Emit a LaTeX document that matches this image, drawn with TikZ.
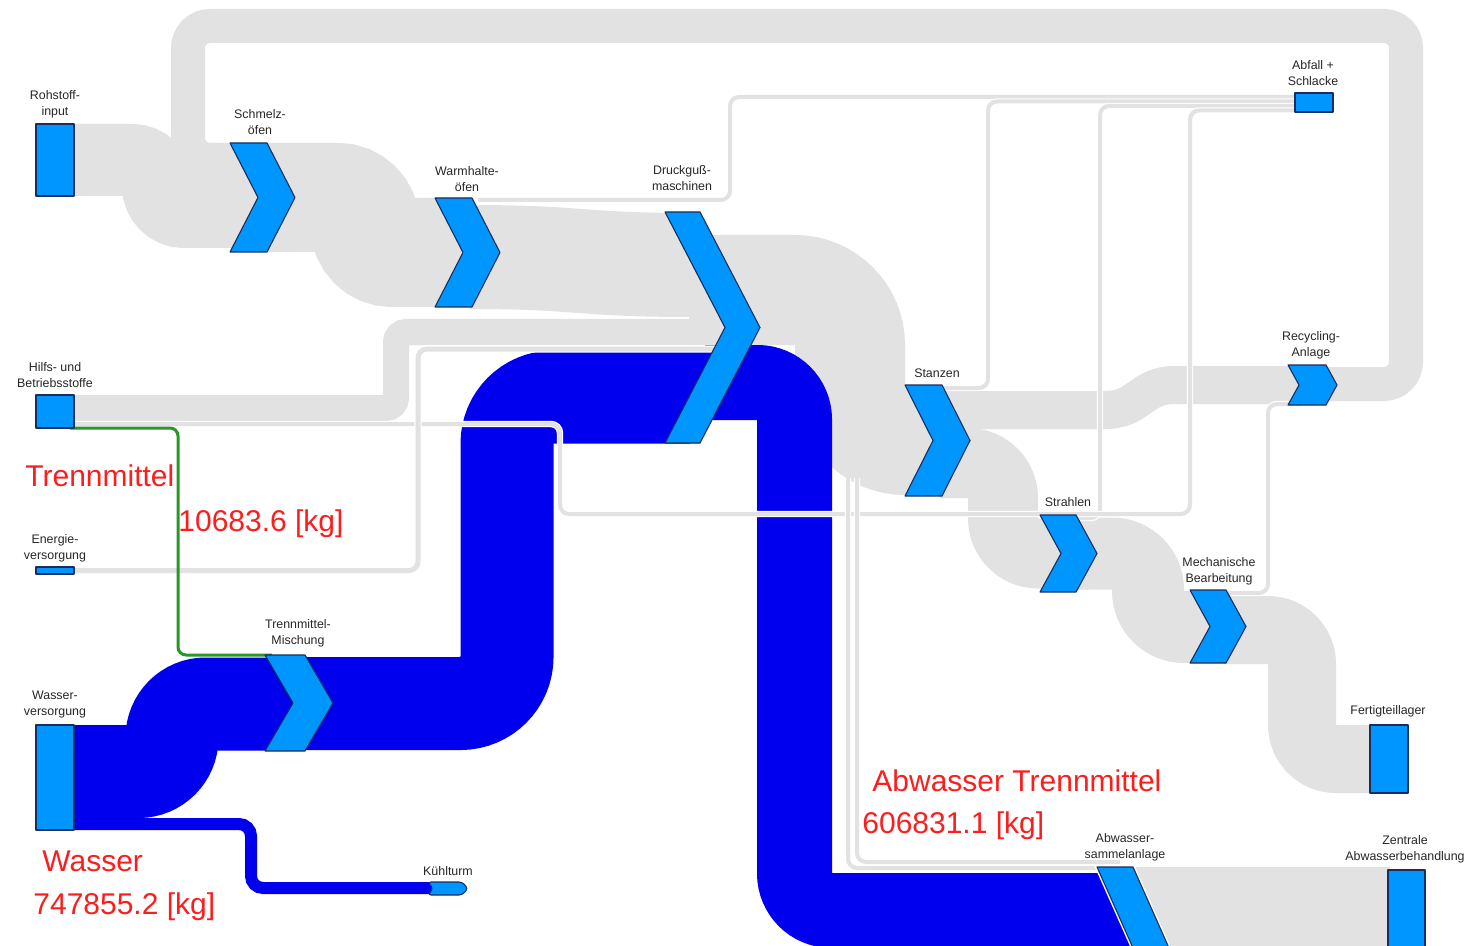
\documentclass[tikz,border=0pt]{standalone}
\usepackage{fontspec}
\setmainfont{Liberation Sans}
\definecolor{flowgray}{RGB}{226,226,226}
\definecolor{flowblue}{RGB}{0,0,238}
\definecolor{procblue}{RGB}{0,150,255}
\definecolor{procedge}{RGB}{25,45,95}
\definecolor{qtyred}{RGB}{250,30,30}
\definecolor{mixgreen}{RGB}{40,150,40}
\begin{document}
\begin{tikzpicture}[x=0.5pt,y=-0.5pt,
  bw/.style={line width=#1*0.5pt},
  grayflow/.style={draw=flowgray},
  blueflow/.style={draw=flowblue},
  thinflow/.style={draw=white, line width=0.6pt, double=flowgray, double distance=#1*0.5pt, rounded corners=4.5pt},
  procbox/.style={fill=procblue, draw=procedge, line width=0.55pt, line join=round},
  halo/.style={preaction={draw=white, line width=2pt}},
  lbl/.style={font=\fontsize{6.2}{8}\selectfont, text=black!85, align=center, inner sep=0pt},
  qty/.style={font=\fontsize{15}{18}\selectfont, text=qtyred, inner sep=0pt, anchor=base west},
]
\newcommand\chevron[6][]{% [style] left, top, bottom, thickness, depth
  \filldraw[procbox,#1] (#2,#3) -- ({#2+#5},#3) -- ({#2+#5+#6},{(#3+#4)/2}) -- ({#2+#5},#4)
    -- (#2,#4) -- ({#2+#6},{(#3+#4)/2}) -- cycle;}
\useasboundingbox (0,0) rectangle (1470,946);
\clip (0,0) rectangle (1470,946);

% ---------- material flows (gray) ----------
% recycling loop back to the melting furnaces
\draw[grayflow,bw=34,rounded corners=11pt] (1322,384) -- (1406,384) -- (1406,26) -- (188,26) -- (188,160) -- (263,160);
% raw material input
\draw[grayflow,bw=72,rounded corners=13pt] (70,160) -- (158,160) -- (158,212) -- (263,212);
\fill[flowgray] (175,150) rectangle (240,200);
% melting -> holding furnaces
\draw[grayflow,bw=109,rounded corners=13.5pt] (262,197.5) -- (365,197.5) -- (365,252.5) -- (468,252.5);
% holding furnaces -> die casting (end tucked into the chevron notch)
\draw[grayflow,bw=104] (470,257) .. controls (580,257) and (580,265) .. (690,265);
\fill[flowgray] (689,212) -- (700,212) -- (725,327.5) -- (716,345) -- (689,345) -- cycle;
% auxiliary materials -> die casting
\draw[grayflow,bw=26,rounded corners=5pt] (70,408) -- (396,408) -- (396,332) -- (728,332);
% die casting -> punching
\draw[grayflow,bw=110,rounded corners=27.5pt] (705,290) -- (850,290) -- (850,440) -- (938,440);
% punching -> recycling
\draw[grayflow,bw=38] (940,410) -- (1105,410) .. controls (1140,410) and (1140,385) .. (1175,385) -- (1304,385);
% punching -> blasting
\draw[grayflow,bw=70,rounded corners=17.5pt] (940,463) -- (1003,463) -- (1003,553.5) -- (1066,553.5);
% blasting -> machining
\draw[grayflow,bw=72,rounded corners=18pt] (1074,553.5) -- (1148,553.5) -- (1148,627) -- (1215,627);
% machining -> finished parts store
\draw[grayflow,bw=68,rounded corners=17pt] (1224,630) -- (1302,630) -- (1302,759) -- (1375,759);
% waste water collection -> central treatment
\fill[flowgray] (1130,867) rectangle (1390,960);

% ---------- water flows (blue) ----------
\draw[blueflow,bw=93,rounded corners=16.8pt] (70,771.5) -- (172,771.5) -- (172,704) -- (298,704);
\draw[blueflow,bw=12,rounded corners=6pt] (70,824) -- (251,824) -- (251,888) -- (435,888);
\draw[blueflow,bw=93,rounded corners=23.25pt] (303,703.5) -- (507,703.5) -- (507,397) -- (690,397);
\fill[flowblue] (689,350.5) -- (720,350.5) -- (700,443) -- (689,443) -- cycle;
\draw[blueflow,bw=75,rounded corners=18.5pt] (705,382.5) -- (794.5,382.5) -- (794.5,910.5) -- (1135,910.5);

% ---------- thin flows ----------
\draw[thinflow=4] (478,200) -- (730,200) -- (730,97) -- (1300,97);
\draw[thinflow=4] (940,388) -- (988,388) -- (988,101.5) -- (1300,101.5);
\draw[thinflow=4] (1078,518) -- (1100,518) -- (1100,106) -- (1300,106);
\draw[thinflow=4] (70,424) -- (560,424) -- (560,514) -- (1190,514) -- (1190,110.5) -- (1300,110.5);
\draw[thinflow=5] (70,570.5) -- (418,570.5) -- (418,349) -- (728,349);
\draw[thinflow=4] (1228,593) -- (1268,593) -- (1268,404) -- (1302,404);
\draw[thinflow=4] (857,478) -- (857,862) -- (1120,862);
\draw[thinflow=4] (848,478) -- (848,868) -- (1120,868);
% release agent
\draw[mixgreen,bw=3,rounded corners=4pt] (70,428) -- (178,428) -- (178,655) -- (272,655);

% ---------- sources and sinks ----------
\filldraw[procbox] (36,124) rectangle (74,196);
\filldraw[procbox] (36,395) rectangle (74,428);
\filldraw[procbox] (36,567) rectangle (74,574);
\filldraw[procbox] (36,725) rectangle (74,830);
\filldraw[procbox] (1295,93) rectangle (1333,112);
\filldraw[procbox] (1370,725) rectangle (1408,793);
\filldraw[procbox] (1388,870) rectangle (1425,960);
\filldraw[procbox,rounded corners=1.5pt] (428,882) -- (462,882) -- (468,888.5) -- (462,895) -- (428,895) -- (433,888.5) -- cycle;

% ---------- processes ----------
\chevron{230}{143}{252}{37}{28}
\chevron{435}{198}{307}{37}{28}
\chevron{665}{212}{443}{35}{60}
\chevron{905}{385}{496}{37}{28}
\chevron{1040}{515}{592}{36}{21}
\chevron{1190}{590}{663}{36}{20}
\chevron{1288}{365}{405}{38}{11}
\chevron{265}{655}{751}{40}{28}
\chevron[halo]{1097}{867}{1047}{36}{40}

% ---------- labels ----------
\node[lbl] (lroh) at (55,104) {Rohstoff-\\input};
\node[lbl] (lsch) at (260,122) {Schmelz-\\öfen};
\node[lbl] (lwar) at (467,179) {Warmhalte-\\öfen};
\node[lbl] (ldru) at (682,178) {Druckguß-\\maschinen};
\node[lbl] (labf) at (1313,73.5) {Abfall +\\Schlacke};
\node[lbl] (lhil) at (55,375) {Hilfs- und\\Betriebsstoffe};
\node[lbl] (lene) at (55,548) {Energie-\\versorgung};
\node[lbl] (lmis) at (298,633.5) {Trennmittel-\\Mischung};
\node[lbl] (lwas) at (55,704.5) {Wasser-\\versorgung};
\node[lbl] (lsta) at (937,373) {Stanzen};
\node[lbl] (lstr) at (1068,502) {Strahlen};
\node[lbl] (lrec) at (1311,345) {Recycling-\\Anlage};
\node[lbl] (lmec) at (1219,571) {Mechanische\\Bearbeitung};
\node[lbl] (lfer) at (1388,711) {Fertigteillager};
\node[lbl] (lasa) at (1125,847) {Abwasser-\\sammelanlage};
\node[lbl] (lzen) at (1405,849) {Zentrale\\Abwasserbehandlung};
\node[lbl] (lkue) at (448,871) {Kühlturm};

\node[qty] (q1) at (25,486) {Trennmittel};
\node[qty] (q2) at (178,531) {10683.6 [kg]};
\node[qty] (q3) at (872,791) {Abwasser Trennmittel};
\node[qty] (q4) at (862,833) {606831.1 [kg]};
\node[qty] (q5) at (42,871) {Wasser};
\node[qty] (q6) at (33,914) {747855.2 [kg]};
\end{tikzpicture}
\end{document}
